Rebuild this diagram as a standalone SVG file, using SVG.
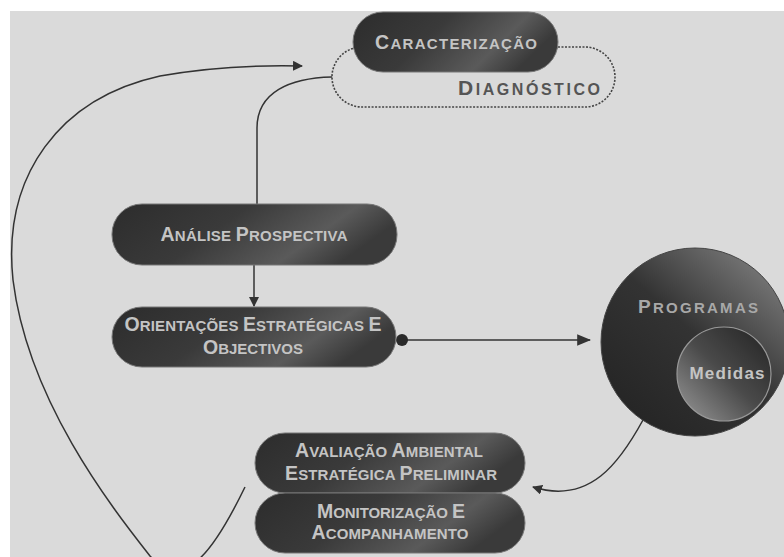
<svg xmlns="http://www.w3.org/2000/svg" width="784" height="557" viewBox="0 0 784 557">
<defs>
<linearGradient id="pill" x1="0" y1="0" x2="1" y2="0.3">
<stop offset="0" stop-color="#2c2c2c"/>
<stop offset="0.45" stop-color="#3a3a3a"/>
<stop offset="0.8" stop-color="#5a5a5a"/>
<stop offset="1" stop-color="#3a3a3a"/>
</linearGradient>
<linearGradient id="big" x1="0.2" y1="0.9" x2="0.9" y2="0.1">
<stop offset="0" stop-color="#262626"/>
<stop offset="0.5" stop-color="#333"/>
<stop offset="1" stop-color="#7a7a7a"/>
</linearGradient>
<linearGradient id="small" x1="0.1" y1="0.9" x2="0.9" y2="0.1">
<stop offset="0" stop-color="#8a8a8a"/>
<stop offset="0.5" stop-color="#4a4a4a"/>
<stop offset="1" stop-color="#2a2a2a"/>
</linearGradient>
<marker id="arr" viewBox="0 0 10 10" refX="9" refY="5" markerWidth="10" markerHeight="10" markerUnits="userSpaceOnUse" orient="auto">
<path d="M0,0 L10,5 L0,10 z" fill="#333"/>
</marker>
<marker id="arrL" viewBox="0 0 12 10" refX="11" refY="5" markerWidth="14" markerHeight="12" markerUnits="userSpaceOnUse" orient="auto">
<path d="M0,0 L12,5 L0,10 z" fill="#333"/>
</marker>
</defs>
<style>
.pill{fill:url(#pill);stroke:#777;stroke-width:1}
.t{font-family:"Liberation Sans",Arial,sans-serif;font-weight:bold;fill:#c4c4c4;text-anchor:middle}
.b{font-size:19.5px}
.s{font-size:15px}
.con{fill:none;stroke:#333;stroke-width:1.5}
</style>
<rect x="10" y="11" width="774" height="546" fill="#dadada"/>

<g id="connectors">
<path class="con" d="M257,204 L257,128 C257,92 290,78 332,77"/>
<path class="con" d="M254,265 L254,306" marker-end="url(#arr)"/>
<path class="con" d="M402,340 L590,340" marker-end="url(#arrL)"/>
<circle cx="402" cy="340" r="6" fill="#2a2a2a"/>
<path class="con" d="M643,420 C620,462 590,505 533,487" marker-end="url(#arr)"/>
<path class="con" d="M245,487 C228,522 212,548 198,560 C182,574 165,572 150,556 C110,505 28,400 13,280 C2,175 60,98 160,76 C210,67 260,65 302,66" marker-end="url(#arr)"/>
</g>

<g id="diagnostico">
<rect x="332" y="47" width="283" height="60" rx="30" fill="none" stroke="#444" stroke-width="1.6" stroke-dasharray="2,1.5"/>
<text x="529" y="95" font-family="Liberation Sans,Arial,sans-serif" font-weight="bold" fill="#555" text-anchor="middle" textLength="142" lengthAdjust="spacing"><tspan font-size="21">D</tspan><tspan font-size="16">IAGNÓSTICO</tspan></text>
</g>

<g id="caracterizacao">
<rect class="pill" x="353" y="12" width="205" height="60" rx="30"/>
<text class="t" x="456" y="49" textLength="162" lengthAdjust="spacing"><tspan class="b">C</tspan><tspan class="s">ARACTERIZAÇÃO</tspan></text>
</g>

<g id="analise">
<rect class="pill" x="112" y="204" width="285" height="61" rx="30"/>
<text class="t" x="254" y="241" textLength="187" lengthAdjust="spacing"><tspan class="b">A</tspan><tspan class="s">NÁLISE </tspan><tspan class="b">P</tspan><tspan class="s">ROSPECTIVA</tspan></text>
</g>

<g id="orientacoes">
<rect class="pill" x="112" y="307" width="284" height="60" rx="30"/>
<text class="t" x="253" y="331" textLength="257" lengthAdjust="spacing"><tspan class="b">O</tspan><tspan class="s">RIENTAÇÕES </tspan><tspan class="b">E</tspan><tspan class="s">STRATÉGICAS </tspan><tspan class="b">E</tspan></text>
<text class="t" x="253" y="354" textLength="100" lengthAdjust="spacing"><tspan class="b">O</tspan><tspan class="s">BJECTIVOS</tspan></text>
</g>

<g id="programas">
<circle cx="695" cy="342" r="94" fill="url(#big)" stroke="#444" stroke-width="1"/>
<text x="698" y="313" font-family="Liberation Sans,Arial,sans-serif" font-weight="bold" fill="#a8a8a8" text-anchor="middle" textLength="120" lengthAdjust="spacing"><tspan font-size="19">P</tspan><tspan font-size="15">ROGRAMAS</tspan></text>
</g>

<g id="medidas">
<circle cx="724" cy="374" r="47" fill="url(#small)" stroke="#999" stroke-width="1.2"/>
<text class="t" x="727" y="379" font-size="17" textLength="75" lengthAdjust="spacing">Medidas</text>
</g>

<g id="avaliacao">
<rect class="pill" x="255" y="433" width="270" height="60" rx="30"/>
<text class="t" x="389" y="457" textLength="188" lengthAdjust="spacing"><tspan class="b">A</tspan><tspan class="s">VALIAÇÃO </tspan><tspan class="b">A</tspan><tspan class="s">MBIENTAL</tspan></text>
<text class="t" x="391" y="480" textLength="212" lengthAdjust="spacing"><tspan class="b">E</tspan><tspan class="s">STRATÉGICA </tspan><tspan class="b">P</tspan><tspan class="s">RELIMINAR</tspan></text>
</g>

<g id="monitorizacao">
<rect class="pill" x="255" y="493" width="270" height="60" rx="30"/>
<text class="t" x="391" y="518" textLength="148" lengthAdjust="spacing"><tspan class="b">M</tspan><tspan class="s">ONITORIZAÇÃO </tspan><tspan class="b">E</tspan></text>
<text class="t" x="390" y="539" textLength="157" lengthAdjust="spacing"><tspan class="b">A</tspan><tspan class="s">COMPANHAMENTO</tspan></text>
</g>
</svg>
